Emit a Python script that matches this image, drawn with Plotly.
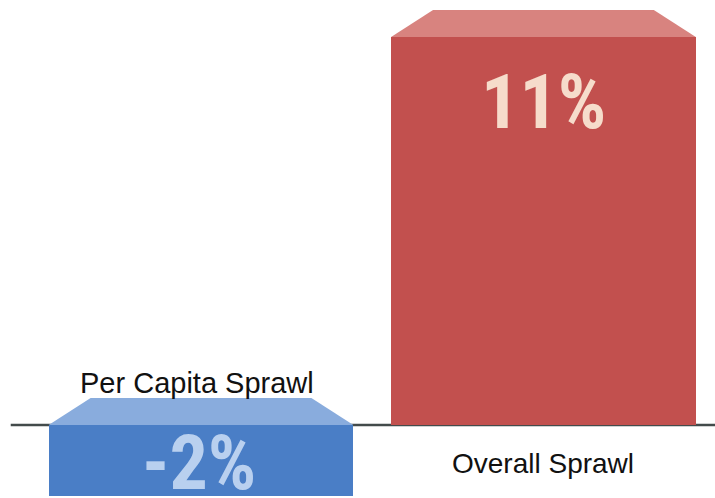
import plotly.graph_objects as go

# ---- data ----
categories = ["Per Capita Sprawl", "Overall Sprawl"]
values = [-2, 11]
value_labels = ["-2%", "11%"]

# ---- style ----
W, H = 715, 498
front_colors = ["#4a7ec6", "#c2504e"]
top_colors = ["#89acdd", "#d8837f"]
text_colors = ["#b9d0ef", "#f6dccb"]
bar_width = 0.89
x_range = [-0.587, 1.501]
y_range = [-2.07, 12.05]
depth_px = 27
inset_px = 42
num_font = "Roboto Condensed, Liberation Sans Narrow, DejaVu Sans Condensed, Roboto"

px_per_x = W / (x_range[1] - x_range[0])
px_per_y = H / (y_range[1] - y_range[0])
dy = depth_px / px_per_y
dx = inset_px / px_per_x

xs = list(range(len(categories)))

fig = go.Figure()

# top faces (perspective tops) computed from bar data
for i, v in enumerate(values):
    top = max(0, v)
    x0 = xs[i] - bar_width / 2
    x1 = xs[i] + bar_width / 2
    fig.add_trace(go.Scatter(
        x=[x0, x1, x1 - dx, x0 + dx, x0],
        y=[top, top, top + dy, top + dy, top],
        fill="toself", fillcolor=top_colors[i], mode="lines",
        line=dict(width=0, color=top_colors[i]), hoverinfo="skip",
        showlegend=False,
    ))

fig.add_trace(go.Bar(
    x=xs, y=values, width=bar_width,
    marker=dict(color=front_colors, line=dict(width=0)),
    showlegend=False, hoverinfo="skip",
))

annotations = []
for i, v in enumerate(values):
    if v >= 0:
        annotations.append(dict(x=xs[i], y=v, yshift=-65, text=value_labels[i],
                                showarrow=False, yanchor="middle",
                                font=dict(family=num_font, size=76, color=text_colors[i], weight="bold")))
        annotations.append(dict(x=xs[i], y=0, yshift=-21, text=categories[i],
                                showarrow=False, yanchor="top",
                                font=dict(family="Liberation Sans, Arial", size=28, color="#111111")))
    else:
        annotations.append(dict(x=xs[i] - 0.006, y=v, yshift=33, text=value_labels[i],
                                showarrow=False, yanchor="middle",
                                font=dict(family=num_font, size=76, color=text_colors[i], weight="bold")))
        annotations.append(dict(x=xs[i] - 0.012, y=dy, yshift=-3, text=categories[i],
                                showarrow=False, yanchor="bottom",
                                font=dict(family="Liberation Sans, Arial", size=29, color="#111111")))

fig.update_layout(
    width=W, height=H,
    margin=dict(l=0, r=0, t=0, b=0),
    paper_bgcolor="white", plot_bgcolor="white",
    xaxis=dict(range=x_range, visible=False, fixedrange=True),
    yaxis=dict(range=y_range, visible=False, fixedrange=True),
    annotations=annotations,
    shapes=[dict(type="line", xref="paper", yref="y", x0=0.015, x1=1, y0=0, y1=0,
                 line=dict(color="#434b4b", width=2.5), layer="below")],
    bargap=0,
)

fig.write_html("out.html", config={"displayModeBar": False},
               post_script="document.body.style.margin='0';document.body.style.overflow='hidden';")
